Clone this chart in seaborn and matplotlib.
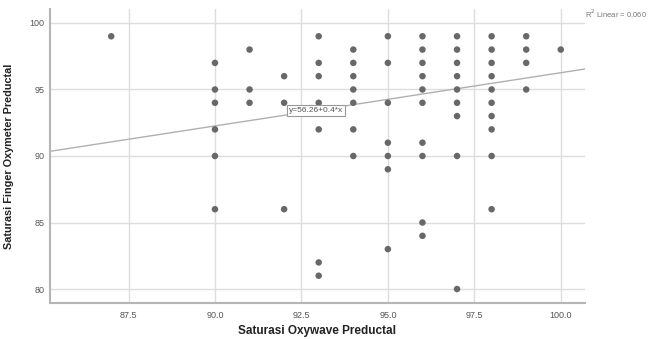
import matplotlib
matplotlib.use("Agg")
import matplotlib.pyplot as plt
import pandas as pd
import seaborn as sns

# Oxywave (x) vs finger oxymeter (y), preductal saturation
oxywave = [87,
           90, 90, 90, 90, 90, 90,
           91, 91, 91,
           92, 92, 92,
           93, 93, 93, 93, 93, 93, 93,
           94, 94, 94, 94, 94, 94, 94,
           95, 95, 95, 95, 95, 95, 95,
           96, 96, 96, 96, 96, 96, 96, 96, 96, 96,
           97, 97, 97, 97, 97, 97, 97, 97, 97,
           98, 98, 98, 98, 98, 98, 98, 98, 98, 98,
           99, 99, 99, 99,
           100]
finger = [99,
          97, 95, 94, 92, 90, 86,
          98, 95, 94,
          96, 94, 86,
          99, 97, 96, 94, 92, 82, 81,
          98, 97, 96, 95, 94, 92, 90,
          99, 97, 94, 91, 90, 89, 83,
          99, 98, 97, 96, 95, 94, 91, 90, 85, 84,
          99, 98, 97, 96, 95, 94, 93, 90, 80,
          99, 98, 97, 96, 95, 94, 93, 92, 90, 86,
          99, 98, 97, 95,
          98]

fit_intercept = 56.26
fit_slope = 0.4
fit_label = "y=56.26+0.4*x"
r2_label = "R$^2$ Linear = 0.060"
x_ticks = [87.5, 90.0, 92.5, 95.0, 97.5, 100.0]
y_ticks = [80, 85, 90, 95, 100]

df = pd.DataFrame({"Oxywave": oxywave, "Finger": finger})

sns.set_style("whitegrid")
plt.rcParams["font.family"] = ["Liberation Sans", "DejaVu Sans"]

fig = plt.figure(figsize=(6.5, 3.39), dpi=100)
ax = fig.add_axes([50 / 650, 1 - 303 / 339, 535 / 650, 294 / 339])

sns.scatterplot(data=df, x="Oxywave", y="Finger", ax=ax, color="#686868",
                s=22, edgecolor="none", zorder=3)

# fit line as reported in the chart
ax.axline((0, fit_intercept), slope=fit_slope, color="#b0b0b0", lw=1.0, zorder=2)
ax.text(92.92, 93.4, fit_label, ha="center", va="center", fontsize=6,
        color="#555555", zorder=4,
        bbox=dict(boxstyle="square,pad=0.25", fc="white", ec="#999999", lw=0.8))

ax.set_xlim(85.23, 100.70)
ax.set_ylim(78.95, 101.05)
ax.set_xticks(x_ticks)
ax.set_xticklabels([f"{t:.1f}" for t in x_ticks])
ax.set_yticks(y_ticks)
ax.tick_params(length=0, labelsize=6.5, labelcolor="#555555")
ax.tick_params(axis="y", pad=4)
ax.tick_params(axis="x", pad=6)
ax.grid(True, color="#dddddd", lw=1.0)

for side in ["top", "right"]:
    ax.spines[side].set_visible(False)
for side in ["left", "bottom"]:
    ax.spines[side].set_color("#b5b5b5")
    ax.spines[side].set_linewidth(1.5)

ax.set_xlabel("Saturasi Oxywave Preductal", fontsize=8.5, fontweight="bold", color="#222222")
ax.set_ylabel("Saturasi Finger Oxymeter Preductal", fontsize=7.8, fontweight="bold", color="#222222")
ax.xaxis.set_label_coords(0.50, -0.075)
ax.yaxis.set_label_coords(-0.067, 0.50)

fig.text(585 / 650, 1 - 14 / 339, r2_label, ha="left", va="center", fontsize=5.5, color="#777777")

fig.savefig("out.png", dpi=100)
